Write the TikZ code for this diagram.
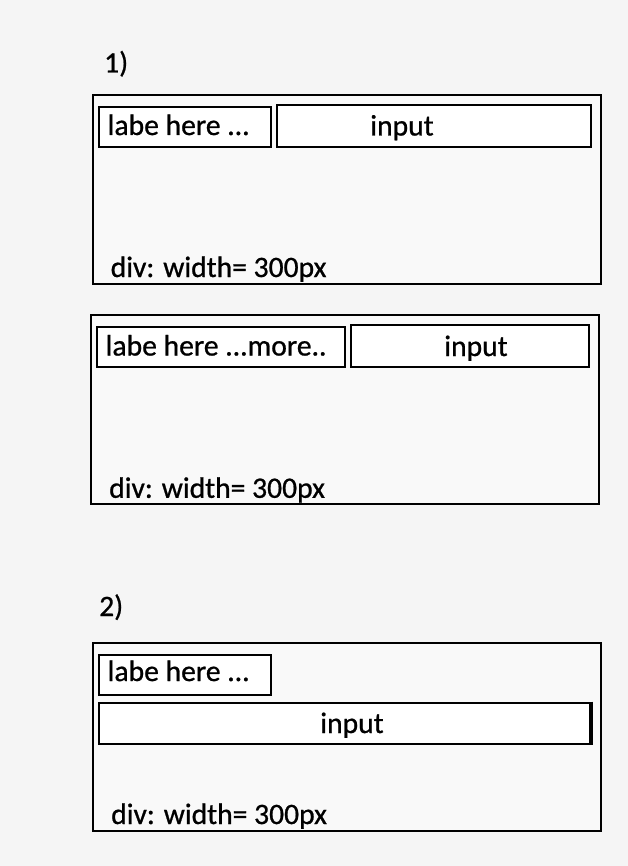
\documentclass[tikz,border=0pt]{standalone}
\usepackage{fontspec}
\setmainfont{Carlito}
\newfontfamily\labfont{Carlito}[FakeBold=0.8]
\definecolor{bgc}{RGB}{245,245,245}
\definecolor{panelc}{RGB}{249,249,249}
\begin{document}
\begin{tikzpicture}[x=1pt,y=-1pt,
  panel/.style={draw=black,line width=2pt,fill=panelc},
  field/.style={draw=black,line width=2pt,fill=white},
  txt/.style={inner sep=0pt,font=\labfont\fontsize{29.6}{34}\selectfont,text=black}]
\fill[bgc] (0,0) rectangle (628,866);
\useasboundingbox (0,0) rectangle (628,866);

% ---- 1) ----
\node[txt,anchor=base west] (n1) at (104,72.5) {1)};
\draw[panel] (93,95) rectangle (601,284);
\draw[field] (98.5,107) rectangle (271,147);
\draw[field] (277,105) rectangle (591,147);
\node[txt,anchor=base west] (l1) at (107.5,135) {labe here ...};
\node[txt,anchor=base] (i1) at (402,135.5) {input};
\node[txt,anchor=base west] (d1) at (110.5,277) {div: width= 300px};

% ---- second 1) panel ----
\draw[panel] (91,315) rectangle (599,504);
\draw[field] (96.5,326.5) rectangle (345,367);
\draw[field] (351,325) rectangle (589,367);
\node[txt,anchor=base west] (l2) at (105.5,355.5) {labe here ...more..};
\node[txt,anchor=base] (i2) at (476,356) {input};
\node[txt,anchor=base west] (d2) at (109,497.8) {div: width= 300px};

% ---- 2) ----
\node[txt,anchor=base west] (n2) at (99,616) {2)};
\draw[panel] (93,643) rectangle (601,831);
\draw[field] (98.5,655) rectangle (271,694.5);
\draw[field] (98.5,702.5) rectangle (591,744);
\draw[line width=3.5pt] (591,701.5) -- (591,745);
\node[txt,anchor=base west] (l3) at (107.5,681) {labe here ...};
\node[txt,anchor=base] (i3) at (352,733) {input};
\node[txt,anchor=base west] (d3) at (111,824) {div: width= 300px};
\end{tikzpicture}
\end{document}
